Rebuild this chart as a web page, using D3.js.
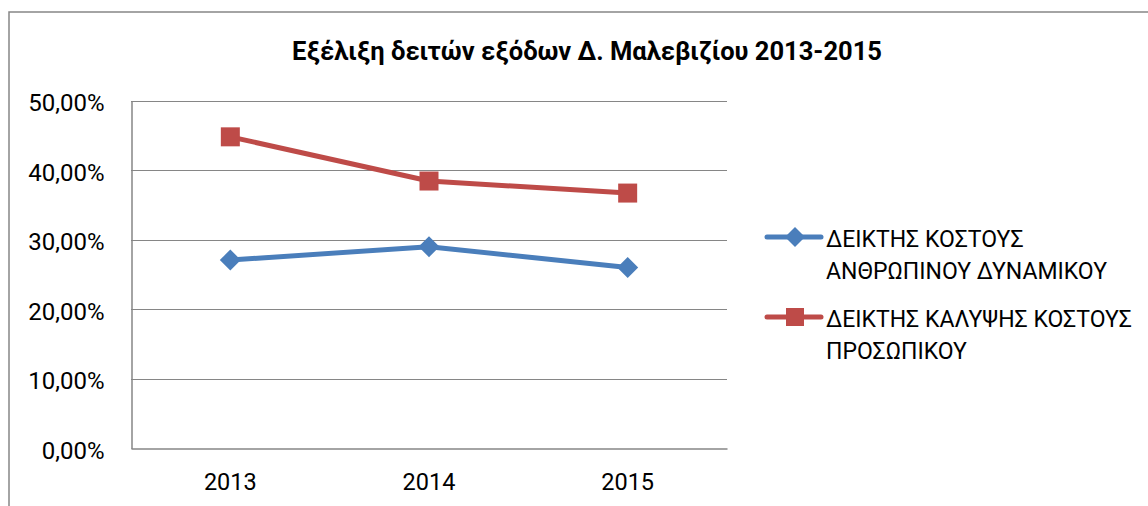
<!DOCTYPE html>
<html>
<head>
<meta charset="utf-8">
<script src="https://cdn.jsdelivr.net/npm/d3@7"></script>
<style>
  html, body { margin: 0; padding: 0; background: #fff; }
  svg { display: block; font-family: Roboto, "Noto Sans", sans-serif; }
</style>
</head>
<body>
<div id="chart"></div>
<script>
// chart data
const title = 'Εξέλιξη δειτών εξόδων Δ. Μαλεβιζίου 2013-2015';
const years = ['2013', '2014', '2015'];
const humanCost = [0.2708, 0.2900, 0.2600];
const staffCover = [0.4478, 0.3843, 0.3670];
const yTicks = [0, 0.1, 0.2, 0.3, 0.4, 0.5];
const seriesNames = [
    ['ΔΕΙΚΤΗΣ ΚΟΣΤΟΥΣ', 'ΑΝΘΡΩΠΙΝΟΥ ΔΥΝΑΜΙΚΟΥ'],
    ['ΔΕΙΚΤΗΣ ΚΑΛΥΨΗΣ ΚΟΣΤΟΥΣ', 'ΠΡΟΣΩΠΙΚΟΥ']
];
const colors = ['#4a7ebb', '#be4b48'];

const width = 1148;
const height = 506;
const plot = { left: 131, right: 727, top: 100.5, bottom: 448.5 };

const svg = d3.select('#chart')
    .append('svg')
    .attr('width', width)
    .attr('height', height);

// outer chart frame (runs off the right and bottom edge)
svg.append('rect')
    .attr('x', 9)
    .attr('y', 12)
    .attr('width', width + 20)
    .attr('height', height + 20)
    .attr('fill', 'none')
    .attr('stroke', '#868686')
    .attr('stroke-width', 1.5);

svg.append('text')
    .attr('x', 587)
    .attr('y', 60)
    .attr('text-anchor', 'middle')
    .attr('font-size', 25.5)
    .attr('font-weight', 'bold')
    .text(title);

const x = d3.scaleBand()
    .domain(years)
    .range([plot.left, plot.right]);

const y = d3.scaleLinear()
    .domain([0, 0.5])
    .range([plot.bottom, plot.top]);

const pct = d => d3.format('.2f')(d * 100).replace('.', ',') + '%';

// gridlines
svg.append('g')
    .selectAll('line')
    .data(yTicks.slice(1))
    .join('line')
    .attr('x1', plot.left)
    .attr('x2', plot.right)
    .attr('y1', d => Math.round(y(d)) + 0.5)
    .attr('y2', d => Math.round(y(d)) + 0.5)
    .attr('stroke', '#868686')
    .attr('stroke-width', 1.2);

// y axis
const yAxis = svg.append('g')
    .attr('transform', `translate(${plot.left + 0.5},0)`)
    .call(d3.axisLeft(y).tickValues(yTicks).tickFormat(pct).tickSize(0).tickPadding(27));
yAxis.select('.domain').attr('stroke', '#868686').attr('stroke-width', 1.5);
yAxis.selectAll('text')
    .attr('font-size', 24)
    .attr('fill', '#000')
    .attr('font-family', 'Roboto')
    .attr('dy', '0.42em');

// x axis
const xAxis = svg.append('g')
    .attr('transform', `translate(0,${plot.bottom})`)
    .call(d3.axisBottom(x).tickSize(0).tickPadding(25));
xAxis.select('.domain').attr('stroke', '#868686').attr('stroke-width', 1.5);
xAxis.selectAll('text')
    .attr('font-size', 23.5)
    .attr('fill', '#000')
    .attr('font-family', 'Roboto');

const cx = d => x(d) + x.bandwidth() / 2;
const line = d3.line()
    .x(d => cx(d.year))
    .y(d => y(d.value));

// marker shapes: diamond as a rotated square, plain square
const diamond = r => `M0,${-r}L${r},0L0,${r}L${-r},0Z`;
const square = s => `M${-s / 2},${-s / 2}h${s}v${s}h${-s}Z`;

const series = [humanCost, staffCover].map((vals, i) => ({
    color: colors[i],
    marker: i === 0 ? diamond(10.5) : square(19),
    legendMarker: i === 0 ? diamond(10) : square(18),
    points: years.map((yr, j) => ({ year: yr, value: vals[j] }))
}));

series.forEach(s => {
    svg.append('path')
        .datum(s.points)
        .attr('d', line)
        .attr('fill', 'none')
        .attr('stroke', s.color)
        .attr('stroke-width', 5)
        .attr('stroke-linejoin', 'round');

    svg.append('g')
        .selectAll('path')
        .data(s.points)
        .join('path')
        .attr('transform', d => `translate(${cx(d.year)},${y(d.value)})`)
        .attr('d', s.marker)
        .attr('fill', s.color);
});

// legend
const legend = svg.append('g').attr('transform', 'translate(767,0)');
const legendY = [237, 317];
series.forEach((s, i) => {
    const g = legend.append('g').attr('transform', `translate(0,${legendY[i]})`);
    g.append('line')
        .attr('x1', 0).attr('x2', 54)
        .attr('stroke', s.color)
        .attr('stroke-width', 5)
        .attr('stroke-linecap', 'round');
    g.append('path')
        .attr('transform', 'translate(28,0)')
        .attr('d', s.legendMarker)
        .attr('fill', s.color);
    g.append('g')
        .selectAll('text')
        .data(seriesNames[i])
        .join('text')
        .attr('x', 59)
        .attr('y', (d, k) => 10 + k * 31.5)
        .attr('font-size', 23)
        .text(d => d);
});
</script>
</body>
</html>
